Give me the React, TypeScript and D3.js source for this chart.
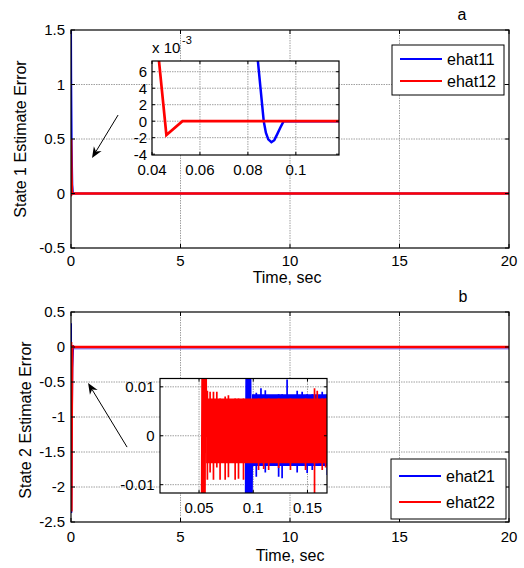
import React from 'react';
import * as d3 from 'd3';

const FONT = '"Liberation Sans", Arial, Helvetica, sans-serif';

// ---------- tick values / labels ----------
const mainXTicks = [0, 5, 10, 15, 20];
const mainXLabels = ['0', '5', '10', '15', '20'];
const p1YTicks = [-0.5, 0, 0.5, 1, 1.5];
const p1YLabels = ['-0.5', '0', '0.5', '1', '1.5'];
const p2YTicks = [-2.5, -2, -1.5, -1, -0.5, 0, 0.5];
const p2YLabels = ['-2.5', '-2', '-1.5', '-1', '-0.5', '0', '0.5'];
const in1XTicks = [0.04, 0.06, 0.08, 0.1];
const in1XLabels = ['0.04', '0.06', '0.08', '0.1'];
const in1YTicks = [-0.004, -0.002, 0, 0.002, 0.004, 0.006];
const in1YLabels = ['-4', '-2', '0', '2', '4', '6'];
const in2XTicks = [0.05, 0.1, 0.15];
const in2XLabels = ['0.05', '0.1', '0.15'];
const in2YTicks = [-0.01, 0, 0.01];
const in2YLabels = ['-0.01', '0', '0.01'];

// ---------- series: state 1 ----------
const ehat11T = [0, 0.01, 0.03, 0.06, 0.08, 0.0842, 0.0852, 0.0866, 0.0875, 0.0885, 0.0898, 0.091, 0.0922, 0.0935, 0.0949, 20];
const ehat11V = [1.55, 1.05, 0.45, 0.08, 0.02, 0.0072, 0.0042, 0, -0.0014, -0.0022, -0.00255, -0.0023, -0.0016, -0.0008, 0, 0];
const ehat12T = [0, 0.01, 0.025, 0.0425, 0.046, 0.0527, 20];
const ehat12V = [0.5, 0.3, 0.12, 0.0085, -0.00167, 0, 0];

// ---------- series: state 2 (transient) ----------
const ehat21T = [0, 0.004, 0.012, 0.03, 0.06, 0.093, 0.0942, 0.0955, 0.0968, 0.098, 0.0988];
const ehat21V = [0.34, -0.8, -2.37, -1.4, -0.3, -0.03, 0.03, -0.03, 0.03, -0.03, 0.002];
const ehat22T = [0, 0.005, 0.015, 0.03, 0.0525, 0.0535, 0.0548, 0.0558, 0.0565, 20];
const ehat22V = [0.07, -1.2, -2.35, -1.0, -0.03, 0.03, -0.03, 0.03, 0, 0];

// ---------- state 2 steady oscillation: envelopes ----------
// [tStart, tEnd, lo, hi]
const ehat21Band = [0.0988, 20, -0.0062, 0.0085];
const ehat22Band = [0.0565, 20, -0.0056, 0.0076];
// main-plot visible envelope of ehat21 after the transient
const ehat21MainBand = [0.0988, 20, -0.034, 0.0];
const ehat22MainBand = [0.0565, 20, -0.012, 0.012];
// individual excursions beyond the band
const ehat22SpikeT = [0.0577, 0.0602, 0.0633, 0.0664, 0.0694, 0.0741, 0.0771, 0.0833, 0.0864, 0.091, 0.1049, 0.1096, 0.1142, 0.1234, 0.1343, 0.1482, 0.1565, 0.159, 0.1636, 0.1667];
const ehat22SpikeLo = [-0.009, -0.0075, -0.009, -0.0065, -0.009, -0.009, -0.0085, -0.009, -0.0088, -0.009, -0.007, -0.0068, -0.007, -0.0066, -0.007, -0.007, -0.014, -0.0056, -0.007, -0.0065];
const ehat22SpikeHi = [0.0092, 0.009, 0.009, 0.009, 0.0076, 0.008, 0.0083, 0.0076, 0.0076, 0.0076, 0.0076, 0.0076, 0.0076, 0.0076, 0.0076, 0.0076, 0.0097, 0.0092, 0.0076, 0.0076];
const ehat21SpikeT = [0.1028, 0.1071, 0.1111, 0.1234, 0.1266, 0.1312, 0.1405, 0.1451, 0.1497, 0.1544, 0.1636, 0.1683];
const ehat21SpikeLo = [-0.0084, -0.0062, -0.0075, -0.0084, -0.0087, -0.0062, -0.0075, -0.0062, -0.0076, -0.007, -0.0062, -0.008];
const ehat21SpikeHi = [0.0088, 0.0097, 0.0093, 0.0085, 0.0085, 0.0115, 0.0092, 0.009, 0.0085, 0.0085, 0.009, 0.0085];

const BLUE = '#0000ff';
const RED = '#ff0000';

const zip = (t: number[], v: number[]) => t.map((d, i) => [d, v[i]] as [number, number]);

type Scale = d3.ScaleLinear<number, number>;

function lineD(x: Scale, y: Scale, t: number[], v: number[]) {
  return d3.line<[number, number]>().x(d => x(d[0])).y(d => y(d[1]))(zip(t, v)) || '';
}
function bandD(x: Scale, y: Scale, b: number[]) {
  const x0 = Math.max(x(b[0]), x.range()[0] - 5);
  const x1 = Math.min(x(b[1]), x.range()[1] + 5);
  return d3.area<number>().x(d => d).y0(y(b[2])).y1(y(b[3]))([x0, x1]) || '';
}

function Axes(props: {
  id: string; x: Scale; y: Scale;
  xTicks: number[]; xLabels: string[]; yTicks: number[]; yLabels: string[];
  tickLen: number; fs: number; xLabOff: number; yLabOff: number;
  children?: React.ReactNode;
}) {
  const { id, x, y, tickLen, fs } = props;
  const [l, r] = x.range();
  const [b, t] = y.range();
  const inX = (p: number) => p > l + 1 && p < r - 1;
  const inY = (p: number) => p > t + 1 && p < b - 1;
  return (
    <g>
      <defs>
        <clipPath id={id}><rect x={l} y={t} width={r - l} height={b - t} /></clipPath>
      </defs>
      <rect x={l} y={t} width={r - l} height={b - t} fill="white" />
      <g stroke="#a0a0a0" strokeWidth={1} strokeDasharray="1.5 1">
        {props.xTicks.map(v => x(v)).filter(inX).map((p, i) => (
          <line key={'gx' + i} x1={p} x2={p} y1={t} y2={b} />
        ))}
        {props.yTicks.map(v => y(v)).filter(inY).map((p, i) => (
          <line key={'gy' + i} x1={l} x2={r} y1={p} y2={p} />
        ))}
      </g>
      <g clipPath={`url(#${id})`}>{props.children}</g>
      <rect x={l} y={t} width={r - l} height={b - t} fill="none" stroke="black" strokeWidth={1.2} />
      <g stroke="black" strokeWidth={1}>
        {props.xTicks.map((v, i) => (
          <g key={'tx' + i}>
            <line x1={x(v)} x2={x(v)} y1={b} y2={b - tickLen} />
            <line x1={x(v)} x2={x(v)} y1={t} y2={t + tickLen} />
          </g>
        ))}
        {props.yTicks.map((v, i) => (
          <g key={'ty' + i}>
            <line x1={l} x2={l + tickLen} y1={y(v)} y2={y(v)} />
            <line x1={r} x2={r - tickLen} y1={y(v)} y2={y(v)} />
          </g>
        ))}
      </g>
      <g fontFamily={FONT} fontSize={fs} fill="black">
        {props.xTicks.map((v, i) => (
          <text key={'lx' + i} x={x(v)} y={b + props.xLabOff + fs * 0.36} textAnchor="middle">{props.xLabels[i]}</text>
        ))}
        {props.yTicks.map((v, i) => (
          <text key={'ly' + i} x={l - props.yLabOff} y={y(v) + fs * 0.36} textAnchor="end">{props.yLabels[i]}</text>
        ))}
      </g>
    </g>
  );
}

function Legend({ x, y, w, h, rows, gap }: { x: number; y: number; w: number; h: number; rows: [string, string][]; gap: number }) {
  const first = y + (h - gap * (rows.length - 1)) / 2;
  return (
    <g>
      <rect x={x} y={y} width={w} height={h} fill="white" stroke="black" strokeWidth={1} />
      {rows.map(([name, c], i) => (
        <g key={name}>
          <line x1={x + 8} x2={x + 50} y1={first + i * gap} y2={first + i * gap} stroke={c} strokeWidth={2} />
          <text x={x + 55} y={first + i * gap + 5.5} fontFamily={FONT} fontSize={16}>{name}</text>
        </g>
      ))}
    </g>
  );
}

function Arrow({ x1, y1, x2, y2 }: { x1: number; y1: number; x2: number; y2: number }) {
  const dx = x2 - x1, dy = y2 - y1;
  const L = Math.hypot(dx, dy);
  const ux = dx / L, uy = dy / L;
  const px = -uy, py = ux;
  const hl = 11, hw = 4.5;
  const bx = x2 - ux * hl, by = y2 - uy * hl;
  const nx = x2 - ux * hl * 0.7, ny = y2 - uy * hl * 0.7;
  const pts = [
    [x2, y2], [bx + px * hw, by + py * hw], [nx, ny], [bx - px * hw, by - py * hw]
  ].map(p => p.join(',')).join(' ');
  return (
    <g>
      <line x1={x1} y1={y1} x2={nx} y2={ny} stroke="black" strokeWidth={1} />
      <polygon points={pts} fill="black" />
    </g>
  );
}

export default function App() {
  const x1 = d3.scaleLinear([0, 20], [71, 509]);
  const y1 = d3.scaleLinear([-0.5, 1.5], [248, 30]);
  const x2 = d3.scaleLinear([0, 20], [71, 509]);
  const y2 = d3.scaleLinear([-2.5, 0.5], [522, 312]);
  const ix1 = d3.scaleLinear([0.04, 0.118], [152, 339]);
  const iy1 = d3.scaleLinear([-0.0041, 0.0073], [155, 61]);
  const ix2 = d3.scaleLinear([0.014, 0.168], [160, 327]);
  const iy2 = d3.scaleLinear([-0.0117, 0.0117], [493, 378.5]);

  const spikes = (x: Scale, y: Scale, T: number[], lo: number[], hi: number[], c: string) =>
    T.map((t, i) => (
      <line key={c + i} x1={x(t)} x2={x(t)} y1={y(lo[i])} y2={y(hi[i])} stroke={c} strokeWidth={1.7} />
    ));

  return (
    <svg width={524} height={568} style={{ position: 'absolute', left: 0, top: 0, background: 'white' }}>
      <rect width={524} height={568} fill="white" />

      {/* ---------- Plot a ---------- */}
      <Axes id="p1" x={x1} y={y1} xTicks={mainXTicks} xLabels={mainXLabels} yTicks={p1YTicks} yLabels={p1YLabels}
        tickLen={4} fs={15} xLabOff={13} yLabOff={6}>
        <path d={lineD(x1, y1, ehat11T, ehat11V)} fill="none" stroke={BLUE} strokeWidth={2} />
        <path d={lineD(x1, y1, ehat12T, ehat12V)} fill="none" stroke={RED} strokeWidth={2.7} />
      </Axes>
      <text x={462} y={20} fontFamily={FONT} fontSize={16} textAnchor="middle">a</text>
      <text x={287} y={283} fontFamily={FONT} fontSize={16} textAnchor="middle">Time, sec</text>
      <text transform={`translate(26,${(30 + 248) / 2}) rotate(-90)`} fontFamily={FONT} fontSize={16} textAnchor="middle">State 1 Estimate Error</text>

      <Arrow x1={x1(2.15)} y1={y1(0.72)} x2={x1(0.96)} y2={y1(0.326)} />

      <Axes id="i1" x={ix1} y={iy1} xTicks={in1XTicks} xLabels={in1XLabels} yTicks={in1YTicks} yLabels={in1YLabels}
        tickLen={3} fs={15} xLabOff={15} yLabOff={5}>
        <path d={lineD(ix1, iy1, ehat11T, ehat11V)} fill="none" stroke={BLUE} strokeWidth={2.5} />
        <path d={lineD(ix1, iy1, ehat12T, ehat12V)} fill="none" stroke={RED} strokeWidth={2.7} />
      </Axes>
      <text x={152} y={53} fontFamily={FONT} fontSize={15}>x 10</text>
      <text x={182} y={44} fontFamily={FONT} fontSize={11}>-3</text>

      <Legend x={392} y={45} w={112} h={50} gap={22} rows={[['ehat11', BLUE], ['ehat12', RED]]} />

      {/* ---------- Plot b ---------- */}
      <Axes id="p2" x={x2} y={y2} xTicks={mainXTicks} xLabels={mainXLabels} yTicks={p2YTicks} yLabels={p2YLabels}
        tickLen={4} fs={15} xLabOff={14.5} yLabOff={6}>
        <path d={bandD(x2, y2, ehat21MainBand)} fill={BLUE} fillOpacity={0.45} />
        <path d={lineD(x2, y2, ehat21T, ehat21V)} fill="none" stroke={BLUE} strokeWidth={2} />
        <path d={bandD(x2, y2, ehat22MainBand)} fill={RED} />
        <path d={lineD(x2, y2, ehat22T, ehat22V)} fill="none" stroke={RED} strokeWidth={2.7} />
      </Axes>
      <text x={463} y={302} fontFamily={FONT} fontSize={16} textAnchor="middle">b</text>
      <text x={290} y={561} fontFamily={FONT} fontSize={16} textAnchor="middle">Time, sec</text>
      <text transform={`translate(31,${(312 + 522) / 2 + 3}) rotate(-90)`} fontFamily={FONT} fontSize={16} textAnchor="middle">State 2 Estimate Error</text>

      <Arrow x1={x2(2.56)} y1={y2(-1.43)} x2={x2(0.78)} y2={y2(-0.514)} />

      <Axes id="i2" x={ix2} y={iy2} xTicks={in2XTicks} xLabels={in2XLabels} yTicks={in2YTicks} yLabels={in2YLabels}
        tickLen={3} fs={15} xLabOff={14.5} yLabOff={5.5}>
        <path d={bandD(ix2, iy2, ehat21Band)} fill={BLUE} />
        {spikes(ix2, iy2, ehat21SpikeT, ehat21SpikeLo, ehat21SpikeHi, BLUE)}
        <path d={lineD(ix2, iy2, ehat21T, ehat21V)} fill="none" stroke={BLUE} strokeWidth={2.5} />
        <path d={bandD(ix2, iy2, ehat22Band)} fill={RED} />
        {spikes(ix2, iy2, ehat22SpikeT, ehat22SpikeLo, ehat22SpikeHi, RED)}
        <path d={lineD(ix2, iy2, ehat22T, ehat22V)} fill="none" stroke={RED} strokeWidth={2.5} />
      </Axes>

      <Legend x={391} y={459} w={115} h={60} gap={26} rows={[['ehat21', BLUE], ['ehat22', RED]]} />
    </svg>
  );
}
